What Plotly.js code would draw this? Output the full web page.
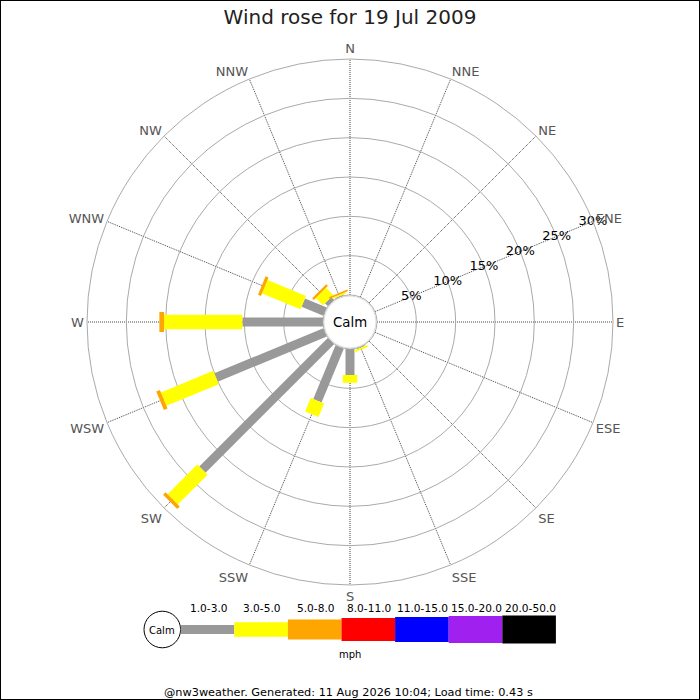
<!DOCTYPE html>
<html>
<head>
<meta charset="utf-8">
<script src="https://cdn.plot.ly/plotly-3.0.1.min.js"></script>
<style>
  html, body { margin: 0; padding: 0; background: #fff; }
  #wrap { position: relative; width: 700px; height: 700px; }
  #chart { width: 700px; height: 700px; }
  #frame { position: absolute; left: 0; top: 0; width: 700px; height: 700px; box-sizing: border-box; border: 1px solid #000; pointer-events: none; }
</style>
</head>
<body>
<div id="wrap"><div id="chart"></div><div id="frame"></div></div>
<script>
// ---- data (percent of time, per direction) ----
const directions = ['N','NNE','NE','ENE','E','ESE','SE','SSE','S','SSW','SW','WSW','W','WNW','NW','NNW'];
const speedBins = ['1.0-3.0','3.0-5.0','5.0-8.0','8.0-11.0','11.0-15.0','15.0-20.0','20.0-50.0'];
const freq1to3   = [0,0,0,0,0,0,0,0.1,3.3,7.4,23.1,15.0,10.25,3.0,0.5,0.1];
const freq3to5   = [0,0,0,0,0,0,0,0.25,1.0,1.85,5.35,7.2,9.95,5.3,1.3,0.2];
const freq5to8   = [0,0,0,0,0,0,0,0,0,0,0.45,0.5,0.6,0.4,0.3,0.2];
const freq8to11  = [0,0,0,0,0,0,0,0,0,0,0,0,0,0,0,0];
const freq11to15 = [0,0,0,0,0,0,0,0,0,0,0,0,0,0,0,0];
const freq15to20 = [0,0,0,0,0,0,0,0,0,0,0,0,0,0,0,0];
const freq20to50 = [0,0,0,0,0,0,0,0,0,0,0,0,0,0,0,0];
const radialTicks = [5,10,15,20,25,30];
const speedUnit = 'mph';
const chartTitle = 'Wind rose for 19 Jul 2009';
const footerText = '@nw3weather. Generated: 11 Aug 2026 10:04; Load time: 0.43 s';

// ---- styles ----
const binColors = ['#999999','#ffff00','#ffa500','#ff0000','#0000ff','#a020f0','#000000'];
const binWidths = [9, 14.5, 20, 23, 25, 27, 28];
const FONT = 'DejaVu Sans, Verdana, sans-serif';

const allFreq = [freq1to3, freq3to5, freq5to8, freq8to11, freq11to15, freq15to20, freq20to50];
const angles = directions.map((d, i) => i * 360 / directions.length);

// geometry of the polar area (px)
const W = 700, H = 700;
const cx = 350, cy = 322, R = 263, hole = 27;
const px = x => x / W;
const py = y => 1 - y / H;

const traces = [];
const base = directions.map(() => 0);
allFreq.forEach((arr, b) => {
  const r = [], th = [];
  arr.forEach((v, i) => {
    if (v > 0) {
      r.push(base[i], base[i] + v, null);
      th.push(angles[i], angles[i], null);
    }
    base[i] += v;
  });
  if (r.length) {
    traces.push({
      type: 'scatterpolar', mode: 'lines', r: r, theta: th,
      connectgaps: false,
      line: { color: binColors[b], width: binWidths[b] },
      hoverinfo: 'skip', showlegend: false, name: speedBins[b]
    });
  }
});

// radial percentage labels along ENE
traces.push({
  type: 'scatterpolar', mode: 'text',
  r: radialTicks, theta: radialTicks.map(() => angles[3]),
  text: radialTicks.map(v => v + '%'),
  textposition: 'middle center',
  textfont: { family: FONT, size: 13, color: '#000' },
  cliponaxis: false, hoverinfo: 'skip', showlegend: false
});

// ---- legend (shapes + annotations) ----
const shapes = [];
const annotations = [];
const legL = 180.7, legStep = 53.6, legCy = 629.5;
const legCalmCx = 162.3, legCalmR = 18.3;

shapes.push({ type: 'circle', xref: 'paper', yref: 'paper',
  x0: px(cx - 26), x1: px(cx + 26), y0: py(cy + 26), y1: py(cy - 26),
  line: { color: '#dddddd', width: 1 }, fillcolor: 'rgba(0,0,0,0)', layer: 'above' });

shapes.push({ type: 'circle', xref: 'paper', yref: 'paper',
  x0: px(legCalmCx - legCalmR), x1: px(legCalmCx + legCalmR),
  y0: py(legCy + legCalmR), y1: py(legCy - legCalmR),
  line: { color: '#000', width: 1 }, fillcolor: '#fff' });

speedBins.forEach((lab, b) => {
  const x0 = legL + b * legStep, x1 = x0 + legStep;
  const h = binWidths[b];
  shapes.push({ type: 'rect', xref: 'paper', yref: 'paper',
    x0: px(x0), x1: px(x1), y0: py(legCy + h / 2), y1: py(legCy - h / 2),
    line: { width: 0 }, fillcolor: binColors[b] });
  annotations.push({ xref: 'paper', yref: 'paper', x: px((x0 + x1) / 2 + 1), y: py(607.5),
    text: lab, showarrow: false, xanchor: 'center', yanchor: 'middle',
    font: { family: FONT, size: 10.6, color: '#000' } });
});

annotations.push({ xref: 'paper', yref: 'paper', x: px(legCalmCx), y: py(630),
  text: 'Calm', showarrow: false, xanchor: 'center', yanchor: 'middle',
  font: { family: FONT, size: 10, color: '#000' } });
annotations.push({ xref: 'paper', yref: 'paper', x: px(350.5), y: py(654),
  text: speedUnit, showarrow: false, xanchor: 'center', yanchor: 'middle',
  font: { family: FONT, size: 10, color: '#000' } });
annotations.push({ xref: 'paper', yref: 'paper', x: px(cx), y: py(cy),
  text: 'Calm', showarrow: false, xanchor: 'center', yanchor: 'middle',
  font: { family: FONT, size: 13.3, color: '#000' } });
annotations.push({ xref: 'paper', yref: 'paper', x: px(348), y: py(692),
  text: footerText, showarrow: false, xanchor: 'center', yanchor: 'middle',
  font: { family: FONT, size: 11.3, color: '#000' } });

const layout = {
  width: W, height: H,
  margin: { l: 0, r: 0, t: 0, b: 0, pad: 0 },
  paper_bgcolor: '#fff',
  font: { family: FONT },
  title: { text: chartTitle, font: { family: FONT, size: 20, color: '#222' },
    x: 0.5, xanchor: 'center', y: 1 - 17 / H, yanchor: 'middle', yref: 'container' },
  showlegend: false,
  polar: {
    domain: { x: [px(cx - R), px(cx + R)], y: [py(cy + R), py(cy - R)] },
    hole: hole / R,
    bgcolor: '#fff',
    radialaxis: {
      range: [0, 30], tickmode: 'array', tickvals: radialTicks,
      showticklabels: false, ticks: '', showline: false,
      gridcolor: '#aaaaaa', gridwidth: 1, angle: 22.5
    },
    angularaxis: {
      rotation: 90, direction: 'clockwise', thetaunit: 'degrees',
      tickmode: 'array', tickvals: angles, ticktext: directions, ticks: '',
      showline: true, linecolor: '#aaaaaa', linewidth: 1,
      showgrid: true, gridcolor: '#444444', gridwidth: 1, griddash: '1px,1px',
      tickfont: { family: FONT, size: 13, color: '#555' }
    }
  },
  shapes: shapes,
  annotations: annotations
};

Plotly.newPlot('chart', traces, layout, { displayModeBar: false, staticPlot: true });
</script>
</body>
</html>
